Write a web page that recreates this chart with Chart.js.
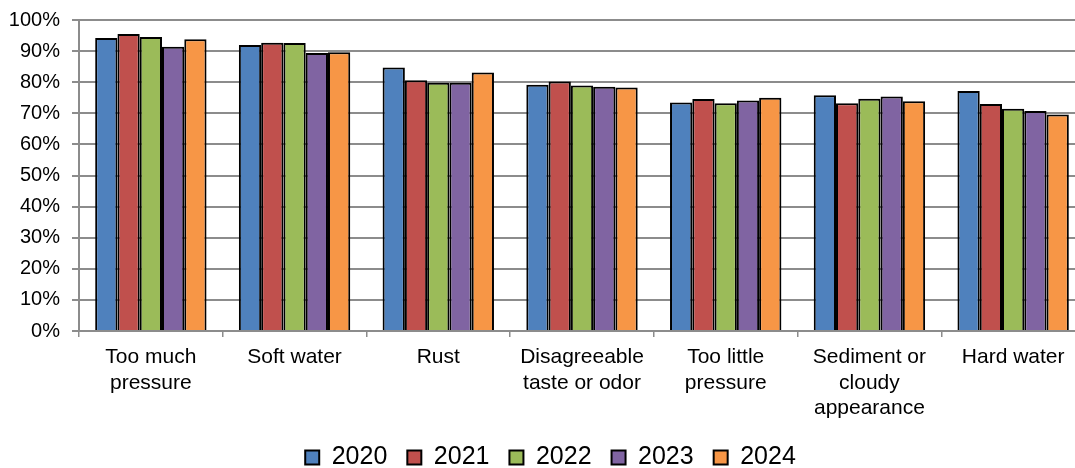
<!DOCTYPE html>
<html>
<head>
<meta charset="utf-8">
<script src="https://cdn.jsdelivr.net/npm/chart.js@4/dist/chart.umd.min.js"></script>
<style>
  html, body { margin: 0; padding: 0; background: #fff; overflow: hidden; }
  #wrap { position: relative; top: -4px; width: 1086px; height: 484px; }
</style>
</head>
<body>
<div id="wrap"><canvas id="chart"></canvas></div>
<script>
const categories = [
  ['Too much', 'pressure'],
  'Soft water',
  'Rust',
  ['Disagreeable', 'taste or odor'],
  ['Too little', 'pressure'],
  ['Sediment or', 'cloudy', 'appearance'],
  'Hard water'
];

const years = ['2020', '2021', '2022', '2023', '2024'];

const values2020 = [94.2, 92.0, 84.7, 79.2, 73.5, 75.8, 77.2];
const values2021 = [95.5, 92.7, 80.6, 80.2, 74.6, 73.2, 73.0];
const values2022 = [94.5, 92.6, 79.8, 78.9, 73.2, 74.7, 71.5];
const values2023 = [91.4, 89.4, 79.8, 78.5, 74.1, 75.4, 70.7];
const values2024 = [93.8, 89.6, 83.1, 78.3, 75.0, 73.9, 69.6];

const colors = ['#4F81BD', '#C0504D', '#9BBB59', '#8064A2', '#F79646'];
const allValues = [values2020, values2021, values2022, values2023, values2024];

const fontFamily = '"Liberation Sans", Arial, sans-serif';

const datasets = years.map((y, i) => ({
  label: y,
  data: allValues[i],
  backgroundColor: colors[i],
  borderColor: '#000',
  borderWidth: 2,
  categoryPercentage: 0.775,
  barPercentage: 1.0
}));

// nudge the legend a little to the right, like the original
const legendShift = {
  id: 'legendShift',
  afterLayout(chart) {
    chart.legend.left += 8;
    chart.legend.right += 8;
  }
};

new Chart(document.getElementById('chart').getContext('2d'), {
  type: 'bar',
  data: { labels: categories, datasets: datasets },
  plugins: [legendShift],
  options: {
    responsive: true,
    maintainAspectRatio: false,
    animation: false,
    layout: { padding: { top: 0, left: 0, right: 1, bottom: 0 } },
    plugins: {
      tooltip: { enabled: false },
      legend: {
        position: 'bottom',
        labels: {
          color: '#000',
          font: { family: fontFamily, size: 25 },
          boxWidth: 14,
          boxHeight: 14,
          padding: 20
        }
      }
    },
    scales: {
      x: {
        afterFit: scale => { scale.height = 94; },
        grid: {
          offset: true,
          drawOnChartArea: false,
          drawTicks: true,
          tickLength: 6,
          color: '#8c8c8c',
          lineWidth: 1.5
        },
        border: { color: '#8c8c8c', width: 2 },
        ticks: {
          color: '#000',
          font: { family: fontFamily, size: 21, lineHeight: 1.2 },
          maxRotation: 0,
          autoSkip: false,
          padding: 8
        }
      },
      y: {
        min: 0,
        max: 100,
        afterFit: scale => { scale.width = 79; },
        grid: { color: '#8c8c8c', lineWidth: 2, tickLength: 7 },
        border: { color: '#8c8c8c', width: 2 },
        ticks: {
          stepSize: 10,
          color: '#000',
          font: { family: fontFamily, size: 20 },
          padding: 12,
          callback: v => v + '%'
        }
      }
    }
  }
});
</script>
</body>
</html>
